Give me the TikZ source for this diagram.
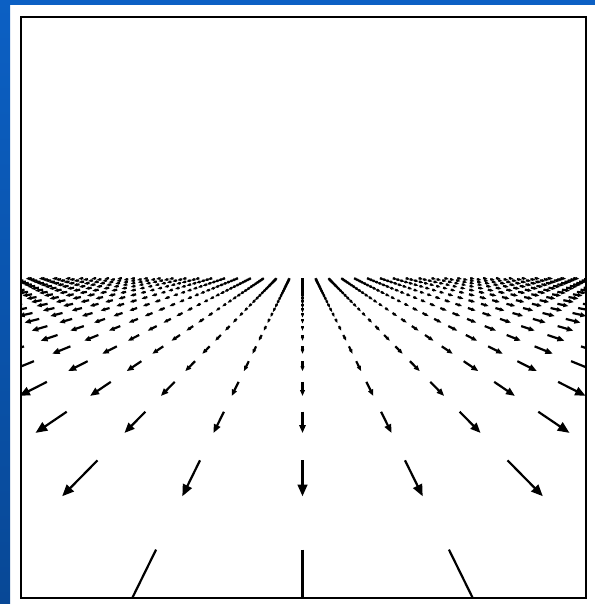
\documentclass[tikz,border=0pt]{standalone}
\definecolor{slideblue}{RGB}{12,96,196}
\definecolor{slidebluedark}{RGB}{8,72,150}
\tikzset{
  frameline/.style={line width=2.2pt, draw=black},
  flowshaft/.style={line width=2.2pt, line cap=butt, draw=black},
  flowhead/.style={fill=black},
}
\begin{document}
\begin{tikzpicture}[x=1pt,y=-1pt]
\useasboundingbox (0,0) rectangle (595,604);
\fill[white] (0,0) rectangle (595,604);
\shade[top color=slideblue,bottom color=slidebluedark] (0,0) rectangle (10,604);
\fill[slideblue] (0,0) rectangle (595,5);
\begin{scope}
  \clip (21,17) rectangle (586,598);
  \foreach \n in {0,...,24} {
    \pgfmathsetmacro\yr{1/(0.00336+0.00145*\n)}
    \pgfmathtruncatemacro\mmax{floor(300/(0.492*\yr))}
    \foreach \m in {-\mmax,...,\mmax} {
      \pgfmathsetmacro\xr{\m*0.492*\yr}
      \pgfmathsetmacro\r{100*sqrt((\xr/100)*(\xr/100)+(\yr/100)*(\yr/100))}
      \pgfmathsetmacro\L{max(0.00082*\yr*\r,4.5)}
      \pgfmathsetmacro\h{min(11.5,2+0.27*\L)}
      \pgfmathsetmacro\ux{\xr/\r}
      \pgfmathsetmacro\uy{\yr/\r}
      \pgfmathsetmacro\tx{302.5+\xr}
      \pgfmathsetmacro\ty{252+\yr}
      \pgfmathsetmacro\px{\tx+\L*\ux}
      \pgfmathsetmacro\py{\ty+\L*\uy}
      \pgfmathsetmacro\sx{\px-0.8*\h*\ux}
      \pgfmathsetmacro\sy{\py-0.8*\h*\uy}
      \pgfmathsetmacro\bx{\px-\h*\ux}
      \pgfmathsetmacro\by{\py-\h*\uy}
      \pgfmathsetmacro\w{0.45*\h}
      \draw[flowshaft] (\tx,\ty) -- (\sx,\sy);
      \fill[flowhead] (\px,\py) -- (\bx-\w*\uy,\by+\w*\ux) -- (\bx+\w*\uy,\by-\w*\ux) -- cycle;
    }
  }
\end{scope}
\draw[frameline] (21,17) rectangle (586,598);
\end{tikzpicture}
\end{document}
